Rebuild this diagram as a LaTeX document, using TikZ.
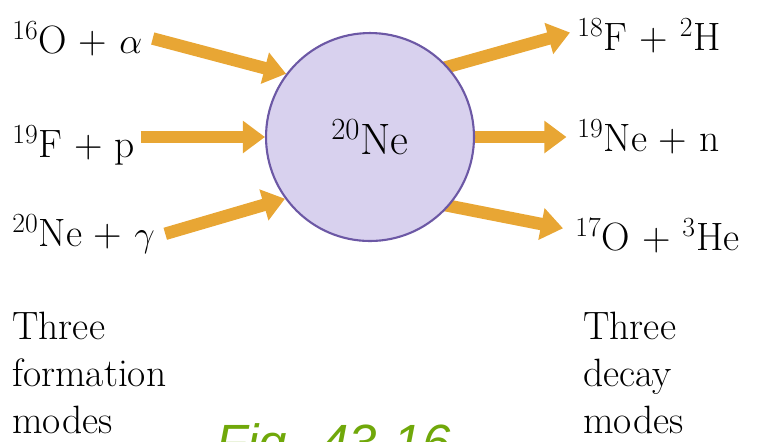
\documentclass[tikz,border=0pt]{standalone}
\usepackage{fontspec}
\newfontfamily\figfont{Liberation Sans}
\usetikzlibrary{arrows.meta,positioning,backgrounds}
\definecolor{arrcol}{RGB}{232,166,52}
\definecolor{nucfill}{RGB}{216,209,238}
\definecolor{nucline}{RGB}{108,88,165}
\definecolor{figgreen}{RGB}{112,168,10}

\begin{document}
\begin{tikzpicture}[x=0.02cm, y=-0.02cm,
    lbl/.style={anchor=base west, inner sep=0pt, font=\fontsize{22.5}{26}\selectfont},
    mode/.style={anchor=base west, inner sep=0pt, align=left, font=\fontsize{22.5}{26.5}\selectfont},
    nuc/.style={circle, draw=nucline, line width=1.2pt, fill=nucfill, minimum size=4.16cm, inner sep=0pt, font=\fontsize{25}{30}\selectfont},
    arr/.style={draw=arrcol, line width=0.25cm, -{Triangle[length=0.44cm, width=0.62cm]}}
]
\useasboundingbox (0,0) rectangle (759,441);
\clip (0,0) rectangle (759,441);

\node[nuc] (ne) at (370,137) {\textsuperscript{20}Ne};

\node[lbl] (f1) at (12,53) {\textsuperscript{16}O + $\alpha$};
\node[lbl] (f2) at (12,157) {\textsuperscript{19}F + p};
\node[lbl] (f3) at (12,246) {\textsuperscript{20}Ne + $\gamma$};

\node[lbl] (d1) at (577,50) {\textsuperscript{18}F + \textsuperscript{2}H};
\node[lbl] (d2) at (577,151) {\textsuperscript{19}Ne + n};
\node[lbl] (d3) at (575,250) {\textsuperscript{17}O + \textsuperscript{3}He};

\draw[arr] ([xshift=0.2cm]f1.east) -- (ne.143);
\draw[arr, shorten <=3pt] (f2.east |- ne.west) -- (ne.west);
\draw[arr] ([xshift=0.2cm]f3.east) -- (ne.216);

\begin{scope}[on background layer]
\draw[arr, shorten <=-6pt] (ne.42) -- ([xshift=-0.14cm, yshift=0.06cm]d1.west);
\draw[arr, shorten <=-6pt, shorten >=6pt] (ne.east) -- (ne.east -| d2.west);
\draw[arr, shorten <=-6pt] (ne.319) -- ([xshift=-0.24cm, yshift=0.14cm]d3.west);
\end{scope}

\node[mode] (form) at (12,433) {Three\\formation\\modes};
\node[mode] (dec) at (583,433) {Three\\decay\\modes};

\node[anchor=base west, inner sep=0pt, text=figgreen, font=\figfont\itshape\fontsize{29}{34}\selectfont] (fig) at (216,460) {Fig. 43-16};
\end{tikzpicture}
\end{document}
